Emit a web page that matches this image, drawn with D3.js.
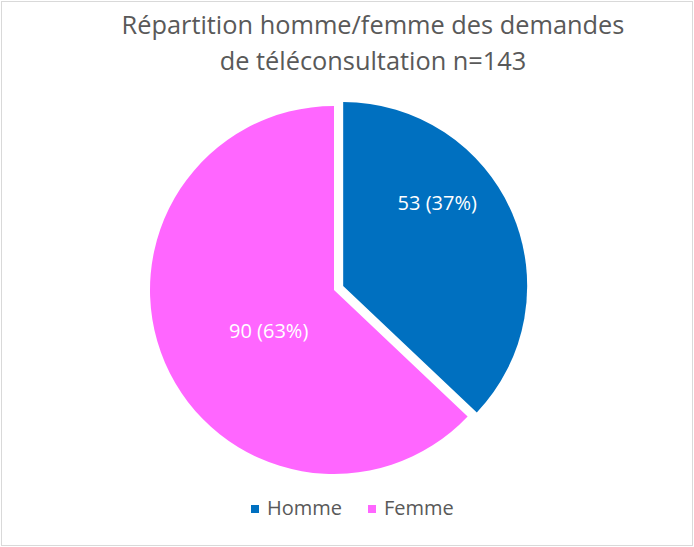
<!DOCTYPE html>
<html><head><meta charset="utf-8">
<script src="https://cdn.jsdelivr.net/npm/d3@7"></script>
<style>body{margin:0;background:#fff;}svg{display:block;}</style>
</head><body>
<svg id="c" width="694" height="547"></svg>
<script>
const categories = ["Homme", "Femme"];
const values = [53, 90];
const percents = ["37%", "63%"];
const colors = ["#0070C0", "#FF66FF"];
const titleLines = ["Répartition homme/femme des demandes", "de téléconsultation n=143"];

const svg = d3.select("#c");
const W = 694, H = 547;
svg.append("rect").attr("x", 1.5).attr("y", 1.5).attr("width", W - 3).attr("height", H - 3)
  .attr("fill", "#fff").attr("stroke", "#D9D9D9").attr("stroke-width", 1);

const font = "'Open Sans', sans-serif";
const tt = svg.append("g").selectAll("text").data(titleLines).join("text")
  .attr("x", 373).attr("y", (d, i) => 34 + i * 36)
  .attr("text-anchor", "middle").attr("font-family", font).attr("font-size", 23)
  .attr("fill", "#595959").text(d => d);
// fit first line to reference width
const w0 = tt.nodes()[0].getComputedTextLength();
const fs = 23 * 503 / w0;
tt.attr("font-size", Math.min(26, Math.max(20, fs)));

const cx = 334, cy = 290, r = 184;
const pie = d3.pie().sort(null).value(d => d)(values);
const arc = d3.arc().innerRadius(0).outerRadius(r);
const explode = [10, 0];
const labelRadius = [0.68, 0.42];
const labelAngleShift = [-18, -9];
const g = svg.append("g").attr("transform", `translate(${cx},${cy})`);
pie.forEach((p, i) => {
  const mid = (p.startAngle + p.endAngle) / 2;
  const dx = Math.sin(mid) * explode[i], dy = -Math.cos(mid) * explode[i];
  const sg = g.append("g").attr("transform", `translate(${dx},${dy})`);
  sg.append("path").attr("d", arc(p)).attr("fill", colors[i]);
  const la = mid + labelAngleShift[i] * Math.PI / 180;
  const lr = r * labelRadius[i];
  sg.append("text").attr("x", Math.sin(la) * lr).attr("y", -Math.cos(la) * lr).attr("dy", "0.35em")
    .attr("text-anchor", "middle").attr("font-family", font).attr("font-size", 20)
    .attr("fill", "#fff").text(`${values[i]} (${percents[i]})`);
});

const legendX = [251, 368];
const lg = svg.append("g");
categories.forEach((c, i) => {
  lg.append("rect").attr("x", legendX[i]).attr("y", 505).attr("width", 8).attr("height", 8).attr("fill", colors[i]);
  lg.append("text").attr("x", legendX[i] + 16).attr("y", 515).attr("font-family", font)
    .attr("font-size", 20).attr("fill", "#595959").text(c);
});
</script>
</body></html>
